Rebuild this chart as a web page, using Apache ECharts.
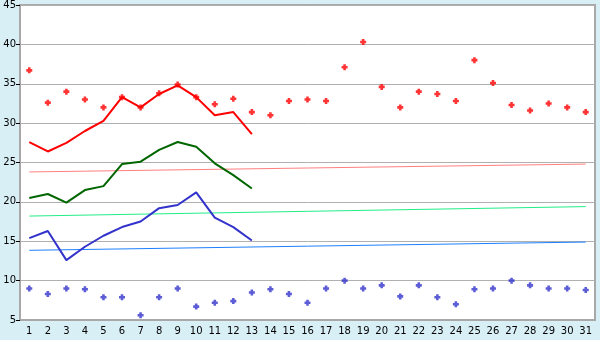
<!DOCTYPE html>
<html>
<head>
<meta charset="utf-8">
<script src="https://cdn.jsdelivr.net/npm/echarts@6/dist/echarts.min.js"></script>
<style>
  html, body { margin: 0; padding: 0; background: #d9eff6; }
  #chart { width: 600px; height: 340px; }
</style>
</head>
<body>
<div id="chart"></div>
<script>
var days = [];
for (var d = 1; d <= 31; d++) days.push(String(d));

// daily highs / lows (scatter)
var highPoints = [36.7, 32.6, 34.0, 33.0, 32.0, 33.3, 32.0, 33.8, 34.9, 33.3,
                  32.4, 33.1, 31.4, 31.0, 32.8, 33.0, 32.8, 37.1, 40.3, 34.6,
                  32.0, 34.0, 33.7, 32.8, 38.0, 35.1, 32.3, 31.6, 32.5, 32.0, 31.4];
var lowPoints = [9.0, 8.3, 9.0, 8.9, 7.9, 7.9, 5.6, 7.9, 9.0, 6.7,
                 7.2, 7.4, 8.5, 8.9, 8.3, 7.2, 9.0, 10.0, 9.0, 9.4,
                 8.0, 9.4, 7.9, 7.0, 8.9, 9.0, 10.0, 9.4, 9.0, 9.0, 8.8];

// measured lines (days 1-13)
var redLine = [27.6, 26.4, 27.5, 29.0, 30.3, 33.3, 32.0, 33.7, 34.8, 33.3, 31.0, 31.4, 28.6];
var greenLine = [20.5, 21.0, 19.9, 21.5, 22.0, 24.8, 25.1, 26.6, 27.6, 27.0, 24.9, 23.4, 21.7];
var blueLine = [15.4, 16.3, 12.6, 14.3, 15.7, 16.8, 17.5, 19.2, 19.6, 21.2, 18.0, 16.8, 15.1];

// trend lines: value at day 1 and day 31
var pinkTrend = [23.8, 24.8];
var mintTrend = [18.2, 19.4];
var skyTrend = [13.85, 14.9];

var chart = echarts.init(document.getElementById('chart'));

var font = 'DejaVu Sans';

function trend(name, vals, color) {
    return {
        name: name,
        type: 'line',
        data: [[0, vals[0]], [days.length - 1, vals[1]]],
        showSymbol: false,
        lineStyle: { color: color, width: 1 },
        z: 2
    };
}

function line(name, vals, color) {
    return {
        name: name,
        type: 'line',
        data: vals,
        showSymbol: false,
        lineStyle: { color: color, width: 2 },
        z: 3
    };
}

// chunky plus marker
var plus = 'path://M2,0H5V2H7V5H5V7H2V5H0V2H2Z';

var option = {
    animation: false,
    backgroundColor: '#d9eff6',
    grid: {
        left: 20, right: 5, top: 5, bottom: 20,
        show: true,
        backgroundColor: '#ffffff',
        borderColor: '#a8a8a8',
        borderWidth: 2
    },
    xAxis: {
        type: 'category',
        data: days,
        boundaryGap: true,
        axisLine: { lineStyle: { color: '#a8a8a8', width: 2 } },
        axisTick: { alignWithLabel: true, length: 5, lineStyle: { color: '#000' } },
        axisLabel: { interval: 0, color: '#000', fontFamily: font, fontSize: 10, margin: 6 },
        splitLine: { show: false }
    },
    yAxis: {
        type: 'value',
        min: 5, max: 45, interval: 5,
        axisLine: { show: true, lineStyle: { color: '#a8a8a8', width: 2 } },
        axisTick: { show: true, length: 4, lineStyle: { color: '#000' } },
        axisLabel: { color: '#000', fontFamily: font, fontSize: 10, margin: 4 },
        splitLine: { lineStyle: { color: '#b0b0b0', width: 1 } }
    },
    series: [
        trend('pink', pinkTrend, '#ff8080'),
        trend('mint', mintTrend, '#22ee88'),
        trend('sky', skyTrend, '#1e80ff'),
        line('red', redLine, '#ff0000'),
        line('green', greenLine, '#006600'),
        line('blue', blueLine, '#3333cc'),
        {
            name: 'high',
            type: 'scatter',
            data: highPoints,
            symbol: plus,
            symbolSize: 6,
            itemStyle: { color: '#ff0000' },
            z: 4
        },
        {
            name: 'low',
            type: 'scatter',
            data: lowPoints,
            symbol: plus,
            symbolSize: 6,
            itemStyle: { color: '#3333cc' },
            z: 4
        }
    ]
};
chart.setOption(option);
</script>
</body>
</html>
